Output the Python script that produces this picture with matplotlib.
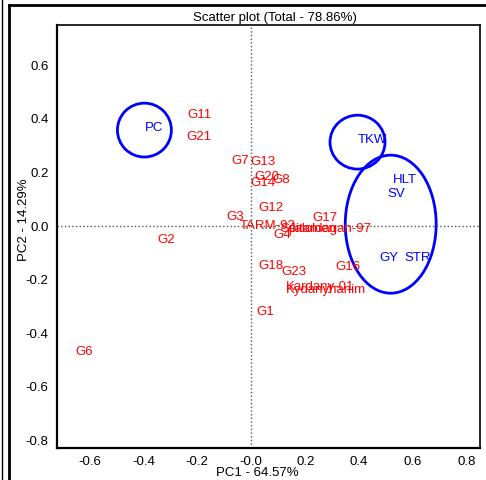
import matplotlib
matplotlib.use("Agg")
import matplotlib.pyplot as plt
from matplotlib.patches import Ellipse
from matplotlib.lines import Line2D

plt.rcParams['font.family'] = ['Liberation Sans', 'DejaVu Sans']
plt.rcParams['axes.unicode_minus'] = False

# Genotype labels (red) and their score positions
genotipos = ["G11", "G21", "G7", "G13", "G20", "G14", "G8", "G12", "G3", "TARM-92",
             "G4", "Spitamen", "Jaloldagan-97", "G17", "G2", "G18", "G23", "G16",
             "Kardany-01", "Kydanyhanim", "G1", "G6"]
gen_x = [-0.237, -0.240, -0.074, -0.004, 0.010, -0.004, 0.078, 0.026, -0.093, -0.041,
         0.081, 0.107, 0.140, 0.226, -0.348, 0.026, 0.111, 0.311,
         0.130, 0.130, 0.019, -0.652]
gen_y = [0.414, 0.332, 0.243, 0.239, 0.183, 0.160, 0.172, 0.067, 0.034, 0.002,
         -0.033, -0.012, -0.012, 0.030, -0.052, -0.149, -0.172, -0.153,
         -0.228, -0.240, -0.320, -0.470]

# Trait labels (blue)
rasgos = ["PC", "TKW", "HLT", "SV", "GY", "STR"]
ras_x = [-0.393, 0.396, 0.526, 0.503, 0.474, 0.567]
ras_y = [0.366, 0.321, 0.170, 0.120, -0.120, -0.120]

# Groups circled (center x, center y, width, height)
grupos_cx = [-0.396, 0.394, 0.517]
grupos_cy = [0.358, 0.313, 0.007]
grupos_w = [0.200, 0.204, 0.337]
grupos_h = [0.201, 0.201, 0.515]

fig = plt.figure(figsize=(4.86, 4.8), dpi=100)
ax = fig.add_axes([57 / 486, 1 - 448 / 480, (480 - 57) / 486, (448 - 25) / 480])

ax.set_xlim(-0.72, 0.848)
ax.set_ylim(-0.828, 0.75)

ax.axhline(0, color='#555555', linestyle=':', linewidth=1)
ax.axvline(0, color='#555555', linestyle=':', linewidth=1)

for nombre, x, y in zip(genotipos, gen_x, gen_y):
    ax.text(x, y, nombre, color='red', fontsize=9.5, ha='left', va='center')

for nombre, x, y in zip(rasgos, ras_x, ras_y):
    ax.text(x, y, nombre, color='blue', fontsize=9.5, ha='left', va='center')

for cx, cy, w, h in zip(grupos_cx, grupos_cy, grupos_w, grupos_h):
    ax.add_patch(Ellipse((cx, cy), w, h, fill=False, edgecolor='blue', linewidth=2))

ax.set_xticks([-0.6, -0.4, -0.2, 0.0, 0.2, 0.4, 0.6, 0.8])
ax.set_xticklabels(["-0.6", "-0.4", "-0.2", "-0.0", "0.2", "0.4", "0.6", "0.8"])
ax.set_yticks([-0.8, -0.6, -0.4, -0.2, 0.0, 0.2, 0.4, 0.6])
ax.tick_params(length=0, labelsize=9.5, pad=6)

for lado in ['left', 'bottom']:
    ax.spines[lado].set_linewidth(1.6)
for lado in ['top', 'right']:
    ax.spines[lado].set_linewidth(1.2)

ax.set_title("Scatter plot (Total - 78.86%)", fontsize=9.5, pad=3, x=0.515)
ax.set_xlabel("PC1 - 64.57%", fontsize=9.5)
ax.xaxis.set_label_coords(0.473, -0.046)
ax.set_ylabel("PC2 - 14.29%", fontsize=9.5)
ax.yaxis.set_label_coords(-0.064, 0.54)

# outer frame lines of the original panel
fig.add_artist(Line2D([2 / 486, 2 / 486], [0, 1], color='black', linewidth=1))
fig.add_artist(Line2D([9 / 486, 9 / 486], [0, 1 - 5 / 480], color='black', linewidth=2))
fig.add_artist(Line2D([9 / 486, 1], [1 - 5 / 480, 1 - 5 / 480], color='black', linewidth=2))

fig.savefig("out.png", dpi=100)
